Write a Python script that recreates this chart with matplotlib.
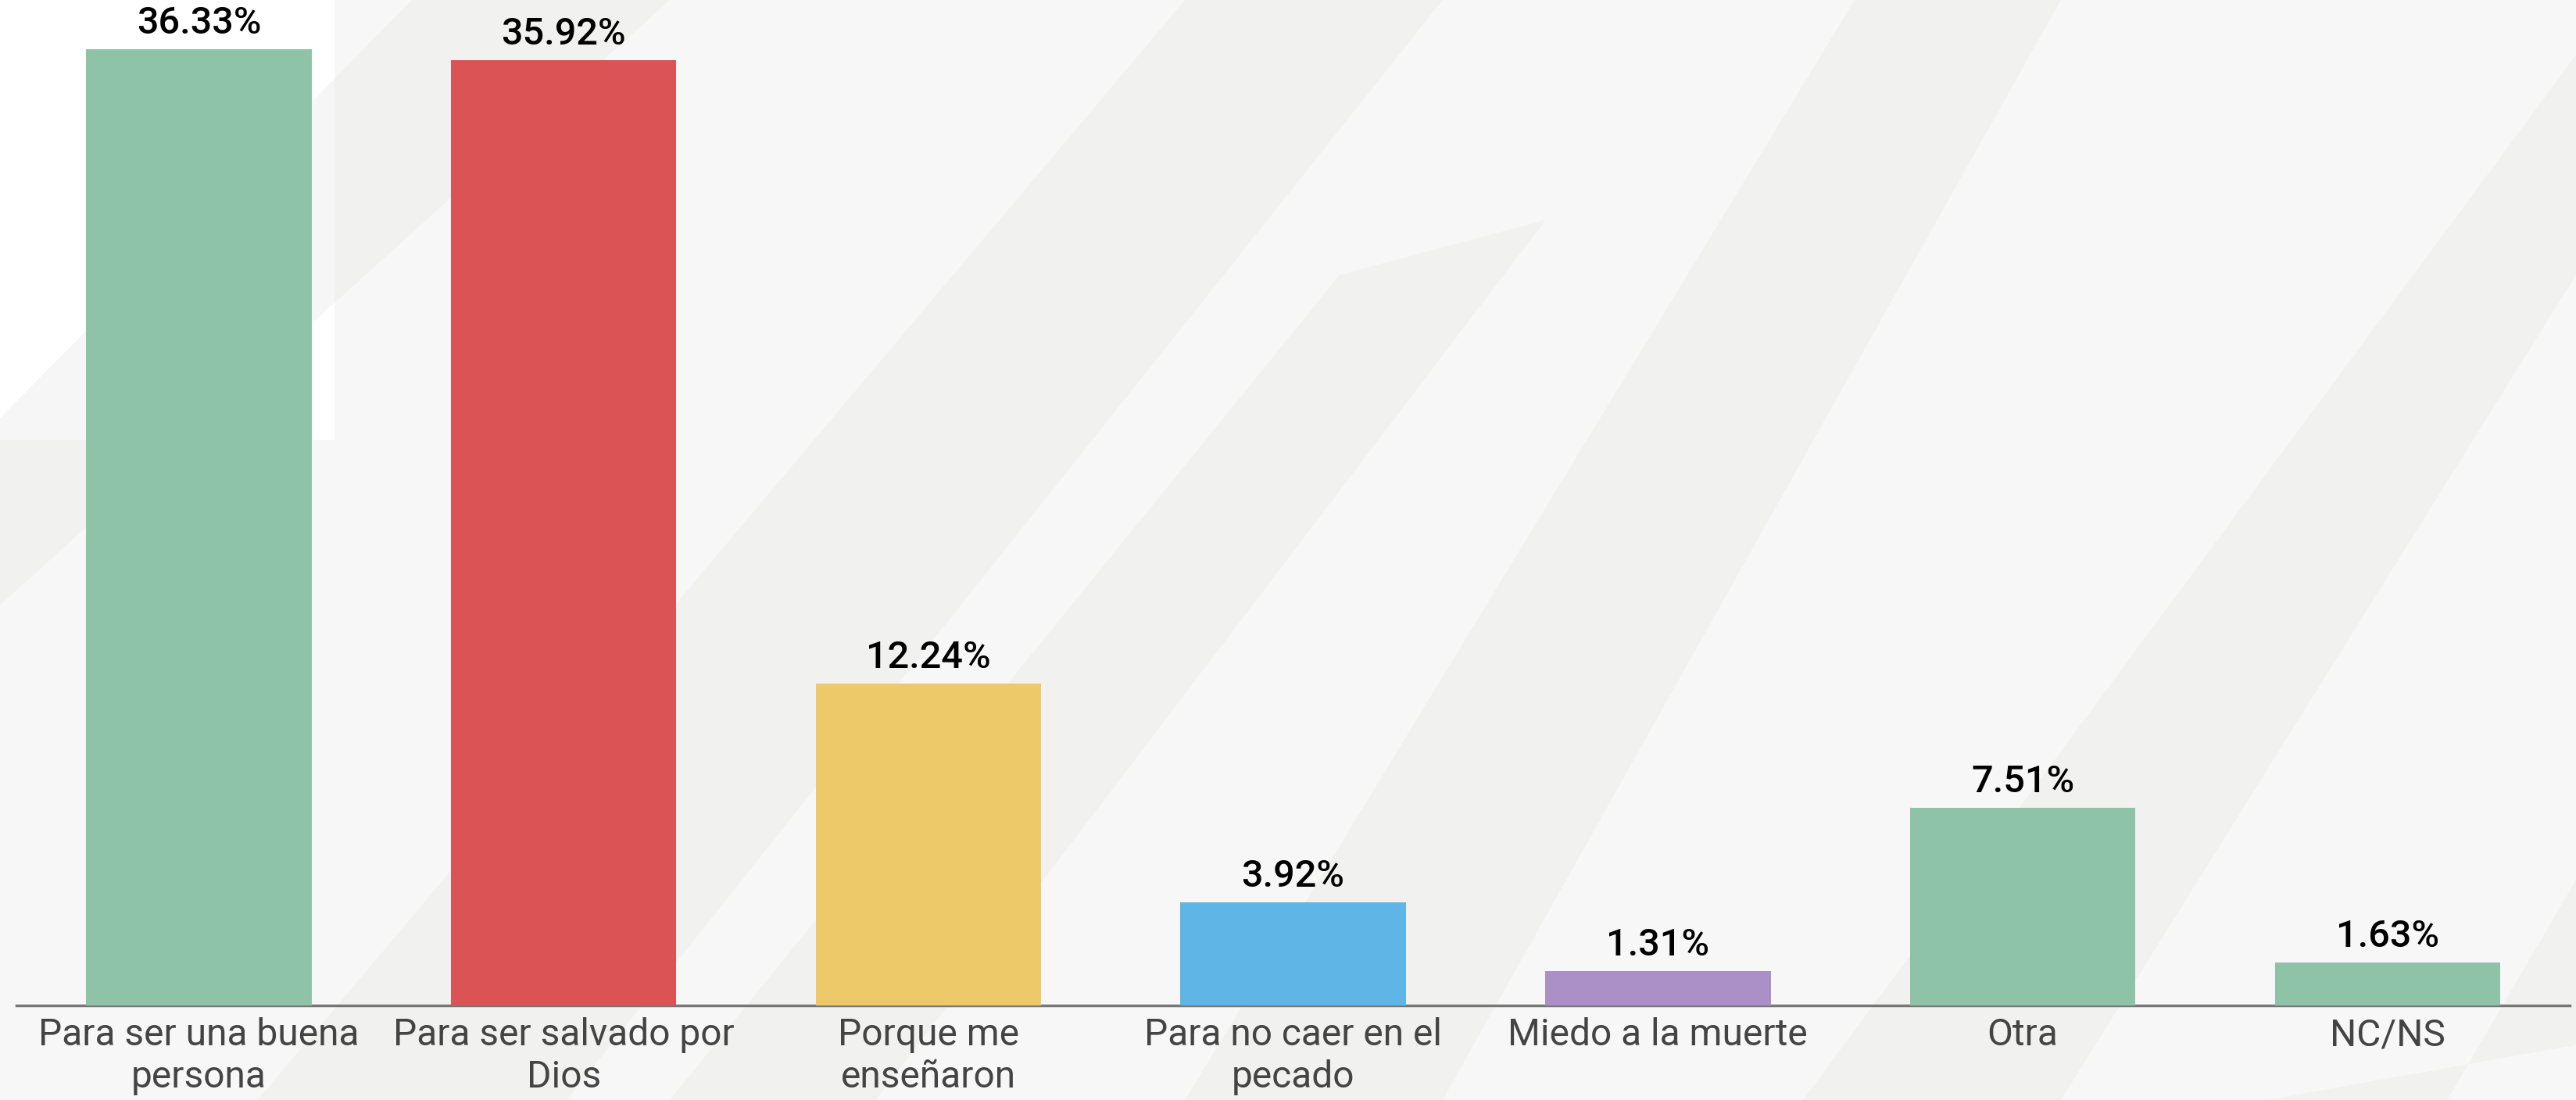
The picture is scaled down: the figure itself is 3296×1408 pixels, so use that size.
import matplotlib
matplotlib.use("Agg")
import matplotlib.pyplot as plt
from matplotlib.patches import Polygon

categories = ["Para ser una buena\npersona", "Para ser salvado por\nDios", "Porque me\nenseñaron",
              "Para no caer en el\npecado", "Miedo a la muerte", "Otra", "NC/NS"]
values = [36.33, 35.92, 12.24, 3.92, 1.31, 7.51, 1.63]
colors = ["#8fc3a8", "#dc5356", "#edc96a", "#5fb5e5", "#ab90c7", "#8fc3a8", "#8fc3a8"]

plt.rcParams['font.family'] = ['Roboto', 'DejaVu Sans']

fig = plt.figure(figsize=(32.96, 14.08), dpi=100)
fig.patch.set_facecolor("#f7f7f7")

# background layer: soft diagonal bands like the decorative image behind the chart
bg = fig.add_axes([0, 0, 1, 1], zorder=0)
bg.set_xlim(0, 1)
bg.set_ylim(0, 1)
bg.axis("off")
bg.add_patch(Polygon([(0, 1), (0.13, 1), (0.13, 0.6), (0, 0.6)], facecolor="white", edgecolor="none"))
bands = [
    [(0.00, 0.45), (0.00, 0.62), (0.16, 1.0), (0.26, 1.0)],
    [(0.10, 0.0), (0.22, 0.0), (0.56, 1.0), (0.46, 1.0)],
    [(0.26, 0.0), (0.34, 0.0), (0.60, 0.80), (0.52, 0.75)],
    [(0.46, 0.0), (0.56, 0.0), (0.80, 1.0), (0.72, 1.0)],
    [(0.70, 0.0), (0.80, 0.0), (1.00, 0.75), (1.00, 0.95)],
    [(0.88, 0.0), (0.95, 0.0), (1.00, 0.20), (1.00, 0.05)],
]
for b in bands:
    bg.add_patch(Polygon(b, closed=True, facecolor="#e4e4e2", alpha=0.3, edgecolor="none"))

ax = fig.add_axes([0.0064, 0.0859, 0.9912, 0.9141], zorder=1)
ax.set_facecolor("none")

x = range(len(categories))
bars = ax.bar(x, values, width=0.618, color=colors, zorder=3)

for rect, v in zip(bars, values):
    ax.text(rect.get_x() + rect.get_width() / 2, v + 0.3, f"{v:.2f}%",
            ha="center", va="bottom", fontsize=35, color="black", fontweight="medium")

ax.set_xlim(-0.5, len(categories) - 0.5)
ax.set_ylim(0, 38.2)
ax.set_xticks(list(x))
ax.set_xticklabels(categories, fontsize=34.5, color="#444444", linespacing=1.2)
ax.tick_params(axis="x", length=0, pad=11)
ax.set_yticks([])
for s in ["top", "right", "left"]:
    ax.spines[s].set_visible(False)
ax.spines["bottom"].set_color("#777777")
ax.spines["bottom"].set_linewidth(2.5)

fig.savefig("out.png", dpi=100, facecolor=fig.get_facecolor())
